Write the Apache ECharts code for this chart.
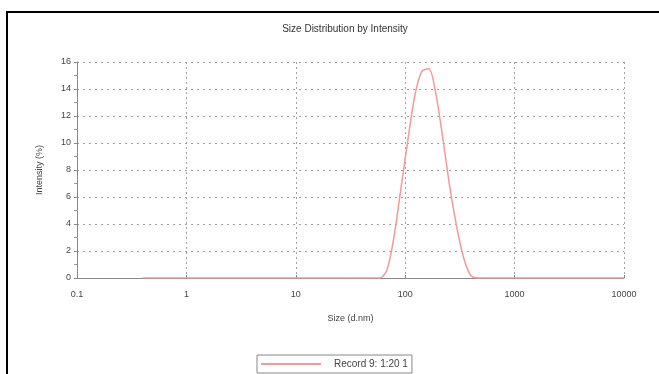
<!DOCTYPE html>
<html>
<head>
<meta charset="utf-8">
<script src="https://cdn.jsdelivr.net/npm/echarts@6/dist/echarts.min.js"></script>
<style>
html,body{margin:0;padding:0;background:#fff;}
#chart{width:659px;height:374px;}
</style>
</head>
<body>
<div id="chart"></div>
<script>
var titleText = 'Size Distribution by Intensity';
var xAxisName = 'Size (d.nm)';
var yAxisName = 'Intensity (%)';
var seriesName = 'Record 9: 1:20 1';
var xTickLabels = ['0.1', '1', '10', '100', '1000', '10000'];
var sizes = [0.4, 0.4632, 0.5365, 0.6213, 0.7195, 0.8332, 0.9649, 1.117, 1.294, 1.499,
  1.736, 2.01, 2.328, 2.696, 3.122, 3.615, 4.187, 4.849, 5.615, 6.503,
  7.531, 8.721, 10.1, 11.7, 13.54, 15.69, 18.17, 21.04, 24.36, 28.21,
  32.67, 37.84, 43.82, 50.75, 58.77, 68.06, 78.82, 91.28, 105.7, 122.4,
  141.8, 164.2, 190.1, 220.2, 255, 295.3, 342, 396.1, 458.7, 531.2,
  615.1, 712.4, 825, 955.4, 1106, 1281, 1484, 1718, 1990, 2305,
  2669, 3091, 3580, 4145, 4801, 5560, 6439, 7456, 8635, 10000];
var intensity = [0, 0, 0, 0, 0, 0, 0, 0, 0, 0,
  0, 0, 0, 0, 0, 0, 0, 0, 0, 0,
  0, 0, 0, 0, 0, 0, 0, 0, 0, 0,
  0, 0, 0, 0, 0, 0.6, 3.0, 6.6, 10.2, 13.5,
  15.3, 15.5, 13.7, 10.4, 6.8, 3.8, 1.5, 0.2, 0, 0,
  0, 0, 0, 0, 0, 0, 0, 0, 0, 0,
  0, 0, 0, 0, 0, 0, 0, 0, 0, 0];

var data = sizes.map(function (s, i) { return [s, intensity[i]]; });
var chart = echarts.init(document.getElementById('chart'));
var labelFont = 'Liberation Sans';
var lineColor = '#f29a9a';
chart.setOption({
  animation: false,
  backgroundColor: '#fff',
  title: {
    text: titleText,
    left: 340, top: 19, textAlign: 'center',
    textStyle: {fontSize: 10, fontWeight: 'normal', color: '#333', fontFamily: labelFont}
  },
  grid: {left: 77, right: 35, top: 62, bottom: 96, containLabel: false},
  xAxis: {
    type: 'log', logBase: 10, min: 0.1, max: 10000,
    name: xAxisName, nameLocation: 'middle', nameGap: 36,
    nameTextStyle: {fontSize: 9, color: '#444', fontFamily: labelFont},
    axisLine: {show: true, lineStyle: {color: '#888', width: 1}},
    axisTick: {show: true, length: 3, inside: true, lineStyle: {color: '#888'}},
    axisLabel: {fontSize: 9, color: '#444', fontFamily: labelFont, margin: 12,
      formatter: function (v) {
        var k = Math.round(Math.log10(v)) + 1;
        return xTickLabels[k] !== undefined ? xTickLabels[k] : '';
      }},
    splitLine: {show: true, lineStyle: {color: '#a0a0a0', type: [2, 3], width: 1}},
    minorTick: {show: false}
  },
  yAxis: {
    type: 'value', min: 0, max: 16, interval: 2,
    name: yAxisName, nameLocation: 'middle', nameGap: 33,
    nameTextStyle: {fontSize: 9, color: '#444', fontFamily: labelFont},
    axisLine: {show: true, lineStyle: {color: '#888', width: 1}},
    axisTick: {show: true, length: 3, inside: false, lineStyle: {color: '#888'}},
    minorTick: {show: true, splitNumber: 2, length: 3, lineStyle: {color: '#999'}},
    axisLabel: {fontSize: 9, color: '#444', fontFamily: labelFont, margin: 6},
    splitLine: {show: true, lineStyle: {color: '#a0a0a0', type: [2, 4], width: 1}}
  },
  legend: {
    show: true, left: 257, top: 355,
    orient: 'horizontal',
    borderColor: '#888', borderWidth: 1, borderRadius: 0,
    padding: [4, 4, 4, 4],
    itemWidth: 60, itemHeight: 2, itemGap: 6,
    textStyle: {fontSize: 10, color: '#444', fontFamily: labelFont, padding: [0, 0, 0, 8]},
    data: [{name: seriesName, icon: 'rect'}]
  },
  series: [{
    name: seriesName,
    type: 'line',
    data: data,
    symbol: 'none',
    smooth: 0.3,
    lineStyle: {color: lineColor, width: 1.5},
    itemStyle: {color: lineColor},
    z: 5
  }],
  graphic: [{
    type: 'rect', silent: true, z: 100,
    shape: {x: 7, y: 12, width: 700, height: 420},
    style: {fill: 'none', stroke: '#000', lineWidth: 2}
  }]
});
</script>
</body>
</html>
